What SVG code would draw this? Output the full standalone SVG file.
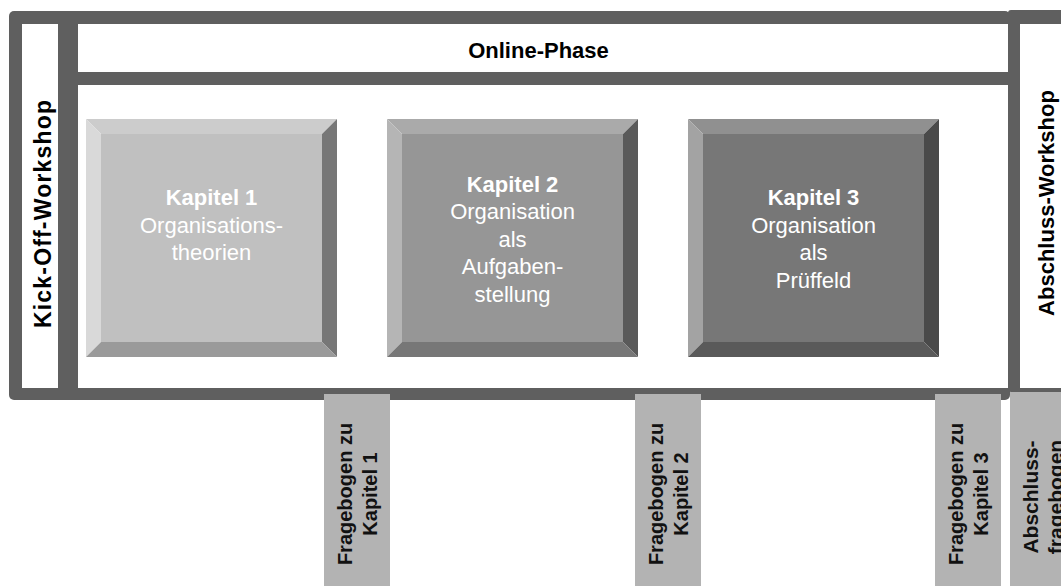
<svg xmlns="http://www.w3.org/2000/svg" width="1061" height="586" viewBox="0 0 1061 586">
<style>
.frame{fill:#5f5f5f}
.white{fill:#ffffff}
.lbl{font-family:"Liberation Sans",Arial,sans-serif;font-weight:bold;font-size:22px;fill:#000}
.kt{font-family:"Liberation Sans",Arial,sans-serif;font-size:22px;fill:#ffffff;text-anchor:middle}
.kt .b{font-weight:bold}
.fb rect{fill:#b3b3b3}
.fbt{font-family:"Liberation Sans",Arial,sans-serif;font-weight:bold;font-size:20px;fill:#111;text-anchor:middle}
.k1 .t{fill:#cccccc}.k1 .l{fill:#d9d9d9}.k1 .f{fill:#c0c0c0}.k1 .r{fill:#777777}.k1 .bt{fill:#9a9a9a}
.k2 .t{fill:#aaaaaa}.k2 .l{fill:#b5b5b5}.k2 .f{fill:#969696}.k2 .r{fill:#5a5a5a}.k2 .bt{fill:#777777}
.k3 .t{fill:#909090}.k3 .l{fill:#a3a3a3}.k3 .f{fill:#777777}.k3 .r{fill:#4a4a4a}.k3 .bt{fill:#5a5a5a}
</style>
<rect width="1061" height="586" fill="#ffffff"/>
<g id="frame">
<rect class="frame" x="9" y="11" width="1001" height="389" rx="5"/>
<rect class="frame" x="1008" y="10" width="70" height="382" rx="3"/>
<rect class="white" x="1020" y="24" width="60" height="364"/>
</g>
<g id="kickoff-workshop">
<rect class="white" x="22" y="24" width="36" height="364"/>
<text class="lbl" text-anchor="middle" style="font-size:23px" textLength="228" lengthAdjust="spacing" transform="translate(51,214) rotate(-90)">Kick-Off-Workshop</text>
</g>
<g id="online-phase">
<rect class="white" x="78" y="24" width="930" height="48"/>
<text class="lbl" x="538.5" y="57.5" text-anchor="middle">Online-Phase</text>
</g>
<g id="main-area">
<rect class="white" x="78" y="85" width="930" height="303"/>
</g>
<g id="abschluss-workshop">
<text class="lbl" text-anchor="middle" transform="translate(1054,203) rotate(-90)">Abschluss-Workshop</text>
</g>
<g id="kapitel1" class="k1" transform="translate(86,119)">
<rect class="f" x="15" y="15" width="221" height="208"/>
<polygon class="t" points="0,0 251,0 236,15 15,15"/>
<polygon class="l" points="0,0 15,15 15,223 0,238"/>
<polygon class="r" points="251,0 251,238 236,223 236,15"/>
<polygon class="bt" points="0,238 15,223 236,223 251,238"/>
<text class="kt"><tspan class="b" x="125.5" y="86">Kapitel 1</tspan><tspan x="125.5" y="113.5">Organisations-</tspan><tspan x="125.5" y="141">theorien</tspan></text>
</g>
<g id="kapitel2" class="k2" transform="translate(387,119)">
<rect class="f" x="15" y="15" width="221" height="208"/>
<polygon class="t" points="0,0 251,0 236,15 15,15"/>
<polygon class="l" points="0,0 15,15 15,223 0,238"/>
<polygon class="r" points="251,0 251,238 236,223 236,15"/>
<polygon class="bt" points="0,238 15,223 236,223 251,238"/>
<text class="kt"><tspan class="b" x="125.5" y="72.5">Kapitel 2</tspan><tspan x="125.5" y="100">Organisation</tspan><tspan x="125.5" y="127.5">als</tspan><tspan x="125.5" y="155">Aufgaben-</tspan><tspan x="125.5" y="182.5">stellung</tspan></text>
</g>
<g id="kapitel3" class="k3" transform="translate(688,119)">
<rect class="f" x="15" y="15" width="221" height="208"/>
<polygon class="t" points="0,0 251,0 236,15 15,15"/>
<polygon class="l" points="0,0 15,15 15,223 0,238"/>
<polygon class="r" points="251,0 251,238 236,223 236,15"/>
<polygon class="bt" points="0,238 15,223 236,223 251,238"/>
<text class="kt"><tspan class="b" x="125.5" y="86">Kapitel 3</tspan><tspan x="125.5" y="113.5">Organisation</tspan><tspan x="125.5" y="141">als</tspan><tspan x="125.5" y="168.5">Prüffeld</tspan></text>
</g>
<g id="fragebogen1" class="fb">
<rect x="324" y="394" width="66" height="192"/>
<text class="fbt" transform="translate(357,494) rotate(-90)"><tspan x="0" y="-5">Fragebogen zu</tspan><tspan x="0" y="20">Kapitel 1</tspan></text>
</g>
<g id="fragebogen2" class="fb">
<rect x="635" y="394" width="66" height="192"/>
<text class="fbt" transform="translate(668,494) rotate(-90)"><tspan x="0" y="-5">Fragebogen zu</tspan><tspan x="0" y="20">Kapitel 2</tspan></text>
</g>
<g id="fragebogen3" class="fb">
<rect x="935" y="394" width="66" height="192"/>
<text class="fbt" transform="translate(968,494) rotate(-90)"><tspan x="0" y="-5">Fragebogen zu</tspan><tspan x="0" y="20">Kapitel 3</tspan></text>
</g>
<g id="abschlussfragebogen" class="fb">
<rect x="1010" y="392" width="66" height="194"/>
<text class="fbt" style="font-size:21px" transform="translate(1043,497) rotate(-90)"><tspan x="0" y="-5">Abschluss-</tspan><tspan x="0" y="20">fragebogen</tspan></text>
</g>
<g id="connectors"/>
</svg>
